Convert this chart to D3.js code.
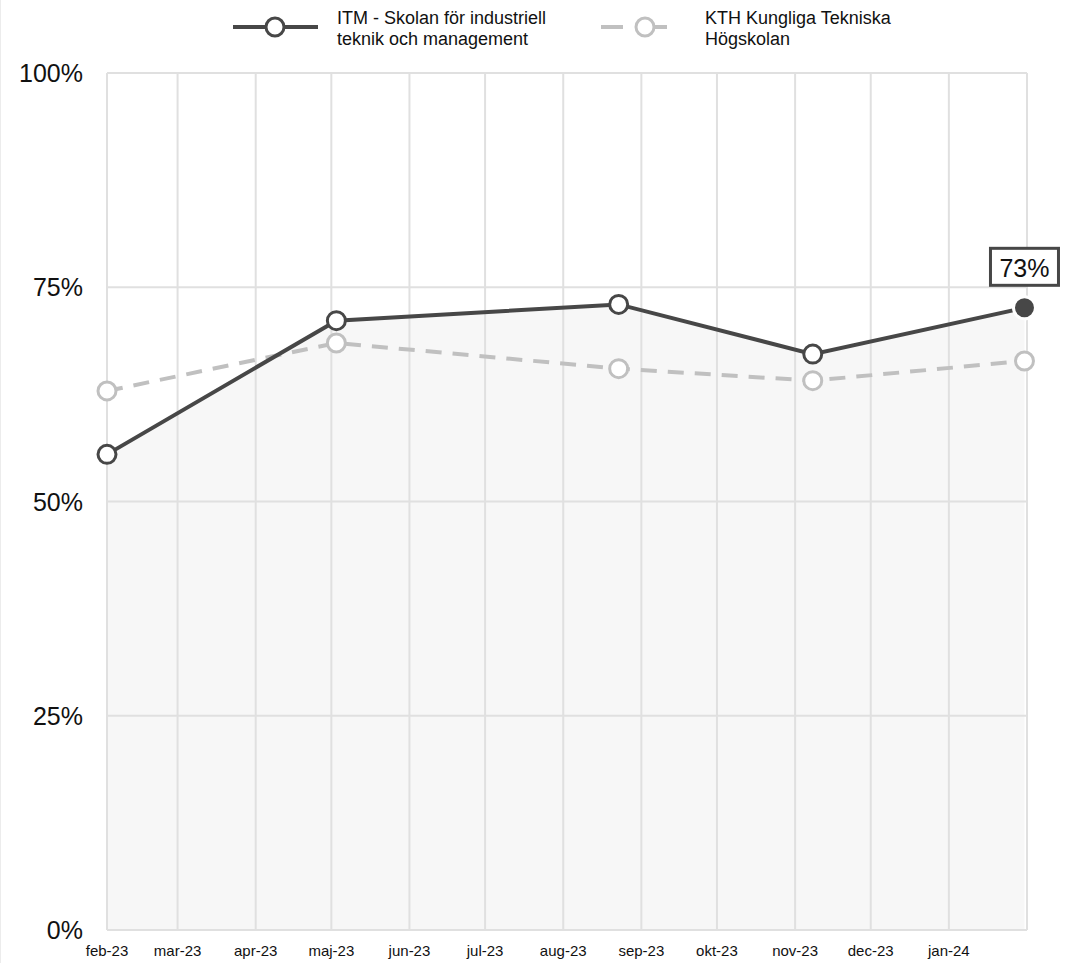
<!DOCTYPE html>
<html>
<head>
<meta charset="utf-8">
<script src="https://cdn.jsdelivr.net/npm/d3@7/dist/d3.min.js"></script>
<style>
  body { margin: 0; background: #fff; font-family: "Liberation Sans", Arial, sans-serif; }
  .grid line { stroke: #e0e0e0; stroke-width: 2; }
  .ylab { font-size: 25px; fill: #111; }
  .xlab { font-size: 15px; fill: #111; }
  .leg { font-size: 18px; fill: #111; }
</style>
</head>
<body>
<div id="chart"></div>
<script>
// Data
let months = ['2023-02-01','2023-03-01','2023-04-01','2023-05-01','2023-06-01','2023-07-01',
              '2023-08-01','2023-09-01','2023-10-01','2023-11-01','2023-12-01','2024-01-01','2024-02-01'];
let monthLabels = ['feb-23','mar-23','apr-23','maj-23','jun-23','jul-23','aug-23','sep-23','okt-23','nov-23','dec-23','jan-24'];
let dates = ['2023-02-01','2023-05-03','2023-08-23','2023-11-08','2024-01-31'];
let itm = [0.555, 0.711, 0.730, 0.672, 0.726];
let kth = [0.629, 0.685, 0.655, 0.641, 0.664];
let yTicks = [0, 0.25, 0.5, 0.75, 1];
let seriesNames = [['ITM - Skolan för industriell', 'teknik och management'], ['KTH Kungliga Tekniska', 'Högskolan']];

let parse = d3.timeParse('%Y-%m-%d');
let W = 1074, H = 963;
let m = { left: 107, right: 1027, top: 73, bottom: 930 };

let svg = d3.select('#chart').append('svg').attr('width', W).attr('height', H);

// svag kant till vänster
svg.append('line').attr('x1', 0.5).attr('x2', 0.5).attr('y1', 0).attr('y2', H)
    .attr('stroke', '#ececec');

let x = d3.scaleTime().domain([parse(months[0]), parse(months[months.length - 1])]).range([m.left, m.right]);
let y = d3.scaleLinear().domain([0, 1]).range([m.bottom, m.top]);

let itmData = dates.map((d, i) => ({ date: parse(d), v: itm[i] }));
let kthData = dates.map((d, i) => ({ date: parse(d), v: kth[i] }));

// yta under ITM
svg.append('path').datum(itmData)
    .attr('fill', '#f7f7f7')
    .attr('d', d3.area().x(d => x(d.date)).y0(y(0)).y1(d => y(d.v)));

// Rutnät
let grid = svg.append('g').attr('class', 'grid');
grid.selectAll('.v').data(months).enter().append('line')
    .attr('x1', d => x(parse(d))).attr('x2', d => x(parse(d)))
    .attr('y1', m.top).attr('y2', m.bottom);
grid.selectAll('.h').data(yTicks).enter().append('line')
    .attr('x1', m.left).attr('x2', m.right)
    .attr('y1', d => y(d)).attr('y2', d => y(d));

// Y-etiketter
svg.selectAll('.ylab').data(yTicks).enter().append('text')
    .attr('class', 'ylab')
    .attr('x', 83).attr('y', d => y(d) + 9)
    .attr('text-anchor', 'end')
    .text(d => d3.format('.0%')(d));

// X-etiketter
svg.selectAll('.xlab').data(monthLabels).enter().append('text')
    .attr('class', 'xlab')
    .attr('x', (d, i) => x(parse(months[i])))
    .attr('y', 956)
    .attr('text-anchor', 'middle')
    .text(d => d);

let line = d3.line().x(d => x(d.date)).y(d => y(d.v));

// KTH
svg.append('path').datum(kthData)
    .attr('fill', 'none').attr('stroke', '#c0c0c0').attr('stroke-width', 4)
    .attr('stroke-dasharray', '16,11')
    .attr('d', line);
svg.selectAll('.kthpt').data(kthData).enter().append('circle')
    .attr('cx', d => x(d.date)).attr('cy', d => y(d.v)).attr('r', 9)
    .attr('fill', '#fff').attr('stroke', '#c0c0c0').attr('stroke-width', 3);

// ITM
svg.append('path').datum(itmData)
    .attr('fill', 'none').attr('stroke', '#474747').attr('stroke-width', 4)
    .attr('d', line);
svg.selectAll('.itmpt').data(itmData).enter().append('circle')
    .attr('cx', d => x(d.date)).attr('cy', d => y(d.v))
    .attr('r', (d, i) => i === itmData.length - 1 ? 11 : 9)
    .attr('fill', (d, i) => i === itmData.length - 1 ? '#474747' : '#fff')
    .attr('stroke', (d, i) => i === itmData.length - 1 ? '#fff' : '#474747')
    .attr('stroke-width', 3);

// etikett för sista värdet
let last = itmData[itmData.length - 1];
let lx = x(last.date), ly = y(last.v);
svg.append('rect')
    .attr('x', lx - 34).attr('y', ly - 59.5).attr('width', 68).attr('height', 37)
    .attr('fill', '#fff').attr('stroke', '#474747').attr('stroke-width', 3);
svg.append('text')
    .attr('x', lx).attr('y', ly - 31).attr('text-anchor', 'middle')
    .style('font-size', '25px').attr('fill', '#111')
    .text(d3.format('.0%')(last.v));

// Förklaring
let leg = svg.append('g');
let l1 = leg.append('g');
l1.append('line').attr('x1', 233).attr('x2', 318).attr('y1', 27).attr('y2', 27)
    .attr('stroke', '#474747').attr('stroke-width', 4);
l1.append('circle').attr('cx', 275).attr('cy', 27).attr('r', 9)
    .attr('fill', '#fff').attr('stroke', '#474747').attr('stroke-width', 3);
l1.selectAll('text').data(seriesNames[0]).enter().append('text')
    .attr('class', 'leg').attr('x', 337).attr('y', (d, i) => 24 + i * 21).text(d => d);

let l2 = leg.append('g');
l2.append('line').attr('x1', 601).attr('x2', 623).attr('y1', 27).attr('y2', 27)
    .attr('stroke', '#c0c0c0').attr('stroke-width', 4);
l2.append('line').attr('x1', 655).attr('x2', 667).attr('y1', 27).attr('y2', 27)
    .attr('stroke', '#c0c0c0').attr('stroke-width', 4);
l2.append('circle').attr('cx', 645).attr('cy', 27).attr('r', 9)
    .attr('fill', '#fff').attr('stroke', '#c0c0c0').attr('stroke-width', 3);
l2.selectAll('text').data(seriesNames[1]).enter().append('text')
    .attr('class', 'leg').attr('x', 705).attr('y', (d, i) => 24 + i * 21).text(d => d);
</script>
</body>
</html>
